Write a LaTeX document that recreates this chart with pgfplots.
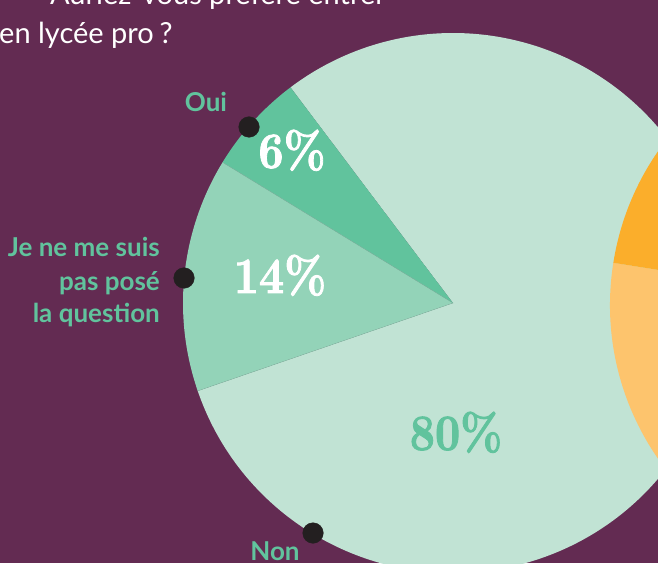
\documentclass[border=0pt]{standalone}
\usepackage{pgfplots}
\pgfplotsset{compat=1.18}
\usepackage{pgfplotstable}
\usepackage{fontspec}
\setmainfont{Lato}
\newfontfamily\didone{lmroman10-bold}[Extension=.otf, FakeStretch=0.86, FakeBold=1.6]

\definecolor{bgpurple}{RGB}{99,43,82}
\definecolor{oui}{RGB}{97,195,157}
\definecolor{quest}{RGB}{147,211,184}
\definecolor{non}{RGB}{193,227,212}
\definecolor{orDark}{RGB}{251,174,43}
\definecolor{orLight}{RGB}{253,196,109}
\definecolor{dotc}{RGB}{35,31,32}

% left pie: share of answers (percent)
\pgfplotstableread{
pct
6
14
80
}\greenpie
% right pie (mostly off the picture)
\pgfplotstableread{
pct
22.5
77.5
}\orangepie

\pgfplotstablegetelem{0}{pct}\of\greenpie \let\pOui\pgfplotsretval
\pgfplotstablegetelem{1}{pct}\of\greenpie \let\pQue\pgfplotsretval
\pgfplotstablegetelem{2}{pct}\of\greenpie \let\pNon\pgfplotsretval
\pgfplotstablegetelem{0}{pct}\of\orangepie \let\pOrA\pgfplotsretval
\pgfplotstablegetelem{1}{pct}\of\orangepie \let\pOrB\pgfplotsretval

\pgfmathsetmacro\aA{127}
\pgfmathsetmacro\aB{\aA+3.6*\pOui}
\pgfmathsetmacro\aC{\aB+3.6*\pQue}
\pgfmathsetmacro\aD{\aC+3.6*\pNon}
\pgfmathsetmacro\oA{90}
\pgfmathsetmacro\oB{\oA+3.6*\pOrA}
\pgfmathsetmacro\oC{\oB+3.6*\pOrB}

\begin{document}
\begin{tikzpicture}
\begin{axis}[
    x=1pt, y=1pt,
    xmin=0, xmax=658, ymin=0, ymax=563,
    anchor=origin, at={(0,0)},
    hide axis, clip=false,
  ]
  \fill[bgpurple] (axis cs:0,0) rectangle (axis cs:658,563);

  % left pie
  \fill[non] (axis cs:453,260) -- ++(\aC:270pt) arc[start angle=\aC, end angle=\aD, radius=270pt] -- cycle;
  \fill[quest] (axis cs:453,260) -- ++(\aB:270pt) arc[start angle=\aB, end angle=\aC, radius=270pt] -- cycle;
  \fill[oui] (axis cs:453,260) -- ++(\aA:270pt) arc[start angle=\aA, end angle=\aB, radius=270pt] -- cycle;
  \draw[oui!80!black!70, line width=0.3pt] (axis cs:453,260) -- ++(\aB:270pt);
  \draw[oui!80!black!70, line width=0.3pt] (axis cs:453,260) -- ++(\aC:270pt);

  % right pie
  \fill[orLight] (axis cs:880,258) -- ++(\oB:270pt) arc[start angle=\oB, end angle=\oC, radius=270pt] -- cycle;
  \fill[orDark] (axis cs:880,258) -- ++(\oA:270pt) arc[start angle=\oA, end angle=\oB, radius=270pt] -- cycle;

  \addplot[only marks, mark=*, mark size=10.3, dotc]
    coordinates {(249,436) (184,285) (313,30)};

  % title
  \node[anchor=base east, inner sep=0, text=white, font=\fontsize{29}{36}\selectfont]
    at (axis cs:386,558) {Auriez-vous préféré entrer};
  \node[anchor=base west, inner sep=0, text=white, font=\fontsize{29}{36}\selectfont]
    at (axis cs:-1,519) {en lycée pro\hspace{0.2em}?};

  % labels
  \node[anchor=base, inner sep=0, text=oui, font=\bfseries\fontsize{26}{30}\selectfont]
    at (axis cs:206,451) {Oui};
  \node[anchor=base east, inner sep=0, text=oui, font=\bfseries\fontsize{26}{30}\selectfont]
    at (axis cs:160,306) {Je ne me suis};
  \node[anchor=base east, inner sep=0, text=oui, font=\bfseries\fontsize{26}{30}\selectfont]
    at (axis cs:160,273) {pas posé};
  \node[anchor=base east, inner sep=0, text=oui, font=\bfseries\fontsize{26}{30}\selectfont]
    at (axis cs:160,241) {la question};
  \node[anchor=base, inner sep=0, text=oui, font=\bfseries\fontsize{26}{30}\selectfont]
    at (axis cs:275,3) {Non};

  % percentages
  \node[anchor=base, inner sep=0, text=white, font=\didone\fontsize{51}{51}\selectfont]
    at (axis cs:292,395) {6\%};
  \node[anchor=base, inner sep=0, text=white, font=\didone\fontsize{51}{51}\selectfont]
    at (axis cs:280,270) {14\%};
  \node[anchor=base, inner sep=0, text=oui, font=\didone\fontsize{51}{51}\selectfont]
    at (axis cs:456,113) {80\%};
\end{axis}
\pgfresetboundingbox
\useasboundingbox (0,0) rectangle (658pt,563pt);
\end{tikzpicture}
\end{document}
